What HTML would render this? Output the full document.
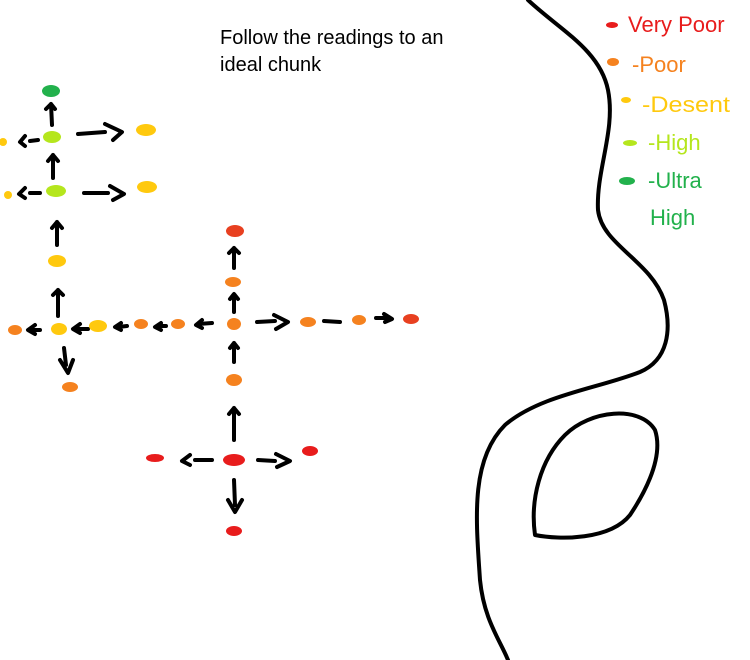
<!DOCTYPE html>
<html><head><style>
html,body{margin:0;padding:0;background:#fff;width:750px;height:660px;overflow:hidden}
svg{display:block}
</style></head><body>
<svg width="750" height="660" viewBox="0 0 750 660" xmlns="http://www.w3.org/2000/svg">
<g fill="none" stroke="#000" stroke-width="4" stroke-linecap="round" stroke-linejoin="round">
<path d="M528,0 C560,30 600,50 608,90 C616,130 596,170 598,210 C602,245 650,260 664,300 C672,330 668,360 640,372 C600,388 540,395 505,425 C470,460 476,520 480,580 C484,620 500,640 508,660"/>
<path d="M535,535 C530,500 540,460 565,435 C590,410 640,405 655,430 C665,460 640,500 630,515 C610,540 560,540 535,535 Z"/>
<!-- arrows -->
<path d="M52,125 L51,104 M46,109 L51,104 L55,109"/>
<path d="M53,178 L53,155 M48,161 L53,155 L58,161"/>
<path d="M57,245 L57,222 M52,228 L57,222 L62,228"/>
<path d="M58,316 L58,290 M53,295 L58,290 L63,295"/>
<path d="M38,140 L30,141 M25,136 L20,142 L25,146"/>
<path d="M78,134 L105,132 M105,124 L122,132 L113,140"/>
<path d="M40,193 L30,193 M25,188 L19,194 L25,198"/>
<path d="M84,193 L108,193 M110,186 L124,194 L113,200"/>
<path d="M40,330 L30,330 M35,325 L28,330 L35,334"/>
<path d="M88,329 L75,329 M80,324 L73,329 L80,333"/>
<path d="M127,326 L118,327 M121,323 L115,327 L121,330"/>
<path d="M166,326 L158,326 M161,323 L155,327 L161,330"/>
<path d="M212,323 L198,324 M202,320 L196,325 L202,328"/>
<path d="M64,348 L66,365 M60,360 L68,373 L73,360"/>
<path d="M234,268 L234,248 M229,253 L234,248 L239,253"/>
<path d="M234,312 L234,295 M230,299 L234,294 L238,299"/>
<path d="M234,362 L234,343 M230,348 L234,343 L238,348"/>
<path d="M234,440 L234,408 M229,414 L234,408 L239,414"/>
<path d="M257,322 L275,321 M274,315 L288,322 L276,329"/>
<path d="M324,321 L340,322"/>
<path d="M376,318 L386,318 M384,314 L392,319 L385,322"/>
<path d="M212,460 L195,460 M190,455 L182,461 L190,465"/>
<path d="M258,460 L275,461 M276,454 L290,461 L277,467"/>
<path d="M234,480 L235,505 M228,500 L235,512 L242,500"/>
</g>
<g>
<ellipse cx="51" cy="91" rx="9" ry="6" fill="#22b14c"/>
<ellipse cx="52" cy="137" rx="9" ry="6" fill="#b5e61d"/>
<ellipse cx="56" cy="191" rx="10" ry="6" fill="#b5e61d"/>
<ellipse cx="146" cy="130" rx="10" ry="6" fill="#ffc90e"/>
<ellipse cx="147" cy="187" rx="10" ry="6" fill="#ffc90e"/>
<ellipse cx="3" cy="142" rx="4" ry="4" fill="#ffc90e"/>
<ellipse cx="8" cy="195" rx="4" ry="4" fill="#ffc90e"/>
<ellipse cx="57" cy="261" rx="9" ry="6" fill="#ffc90e"/>
<ellipse cx="59" cy="329" rx="8" ry="6" fill="#ffc90e"/>
<ellipse cx="98" cy="326" rx="9" ry="6" fill="#ffc90e"/>
<ellipse cx="15" cy="330" rx="7" ry="5" fill="#f5821f"/>
<ellipse cx="70" cy="387" rx="8" ry="5" fill="#f5821f"/>
<ellipse cx="141" cy="324" rx="7" ry="5" fill="#f5821f"/>
<ellipse cx="178" cy="324" rx="7" ry="5" fill="#f5821f"/>
<ellipse cx="234" cy="324" rx="7" ry="6" fill="#f5821f"/>
<ellipse cx="233" cy="282" rx="8" ry="5" fill="#f5821f"/>
<ellipse cx="234" cy="380" rx="8" ry="6" fill="#f5821f"/>
<ellipse cx="308" cy="322" rx="8" ry="5" fill="#f5821f"/>
<ellipse cx="359" cy="320" rx="7" ry="5" fill="#f5821f"/>
<ellipse cx="235" cy="231" rx="9" ry="6" fill="#e84020"/>
<ellipse cx="411" cy="319" rx="8" ry="5" fill="#e84020"/>
<ellipse cx="234" cy="460" rx="11" ry="6" fill="#e81c1c"/>
<ellipse cx="155" cy="458" rx="9" ry="4" fill="#e81c1c"/>
<ellipse cx="310" cy="451" rx="8" ry="5" fill="#e81c1c"/>
<ellipse cx="234" cy="531" rx="8" ry="5" fill="#e81c1c"/>
<ellipse cx="612" cy="25" rx="6" ry="3" fill="#e81c1c"/>
<ellipse cx="613" cy="62" rx="6" ry="4" fill="#f5821f"/>
<ellipse cx="626" cy="100" rx="5" ry="3" fill="#ffc90e"/>
<ellipse cx="630" cy="143" rx="7" ry="3" fill="#b5e61d"/>
<ellipse cx="627" cy="181" rx="8" ry="4" fill="#22b14c"/>
</g>
<g font-family="Liberation Sans, sans-serif" font-size="20" fill="#000">
<text x="220" y="44">Follow the readings to an</text>
<text x="220" y="71">ideal chunk</text>
</g>
<g font-family="Liberation Sans, sans-serif" font-size="22">
<text x="628" y="32" fill="#e81c1c">Very Poor</text>
<text x="632" y="72" fill="#f5821f">-Poor</text>
<text x="642" y="112" fill="#ffc90e" textLength="88" lengthAdjust="spacingAndGlyphs">-Desent</text>
<text x="648" y="150" fill="#b5e61d">-High</text>
<text x="648" y="188" fill="#22b14c">-Ultra</text>
<text x="650" y="225" fill="#22b14c">High</text>
</g>
</svg>
</body></html>
